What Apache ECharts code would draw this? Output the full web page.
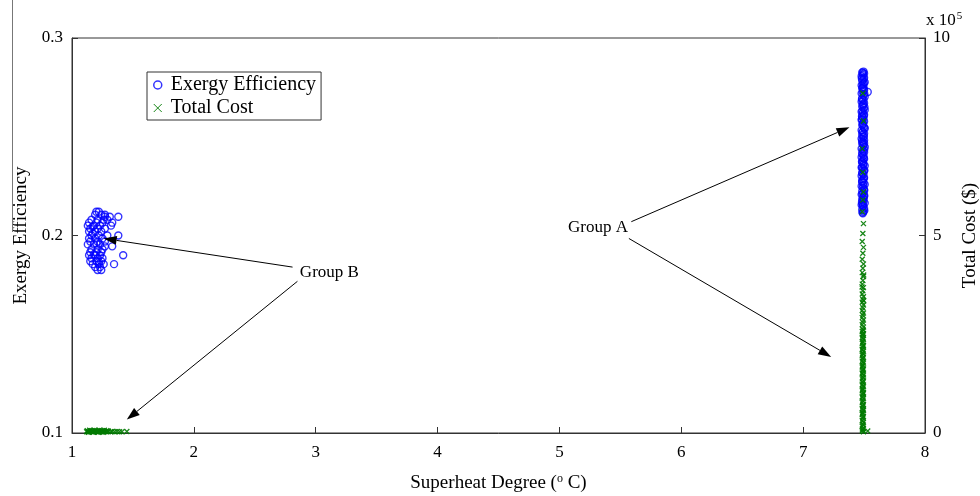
<!DOCTYPE html>
<html>
<head>
<meta charset="utf-8">
<script src="https://cdn.jsdelivr.net/npm/echarts@6/dist/echarts.min.js"></script>
<style>
  html, body { margin: 0; padding: 0; background: #fff; }
  #chart { width: 980px; height: 496px; }
</style>
</head>
<body>
<div id="chart"></div>
<script>
// Superheat degree (°C) vs exergy efficiency, group B (low superheat)
var groupBExergy = [
  [1.20,0.2120],[1.22,0.2120],[1.24,0.2105],[1.19,0.2105],[1.27,0.2105],
  [1.31,0.2095],[1.27,0.2095],[1.38,0.2095],[1.16,0.2080],[1.21,0.2080],
  [1.26,0.2080],[1.29,0.2080],[1.14,0.2065],[1.20,0.2065],[1.25,0.2065],
  [1.33,0.2065],[1.13,0.2050],[1.18,0.2050],[1.23,0.2050],[1.32,0.2050],
  [1.15,0.2035],[1.21,0.2035],[1.27,0.2035],[1.14,0.2020],[1.19,0.2020],
  [1.24,0.2020],[1.16,0.2000],[1.22,0.2000],[1.29,0.2000],[1.38,0.2000],
  [1.14,0.1985],[1.19,0.1985],[1.25,0.1985],[1.15,0.1970],[1.21,0.1970],
  [1.27,0.1970],[1.13,0.1955],[1.18,0.1955],[1.23,0.1955],[1.27,0.1945],
  [1.33,0.1945],[1.16,0.1930],[1.21,0.1930],[1.25,0.1930],[1.15,0.1915],
  [1.20,0.1915],[1.24,0.1915],[1.14,0.1900],[1.19,0.1900],[1.23,0.1900],
  [1.42,0.1900],[1.16,0.1885],[1.21,0.1885],[1.25,0.1885],[1.15,0.1870],
  [1.20,0.1870],[1.24,0.1870],[1.17,0.1855],[1.22,0.1855],[1.26,0.1855],
  [1.345,0.1855],[1.19,0.1840],[1.23,0.1840],[1.21,0.1825],[1.24,0.1825],
  [1.17,0.2010],[1.20,0.1960],[1.18,0.1905],[1.22,0.1865],[1.17,0.2045]
];

// Group A (high superheat) exergy efficiency
var groupAExergy = [
  [7.495,0.2830],[7.485,0.2826],[7.500,0.2820],[7.490,0.2813],[7.480,0.2806],
  [7.500,0.2799],[7.495,0.2791],[7.485,0.2784],[7.505,0.2776],[7.490,0.2767],
  [7.480,0.2760],[7.495,0.2752],[7.530,0.2727],[7.485,0.2744],[7.500,0.2735],
  [7.490,0.2728],[7.480,0.2719],[7.495,0.2711],[7.505,0.2703],[7.485,0.2694],
  [7.495,0.2686],[7.480,0.2677],[7.500,0.2670],[7.490,0.2661],[7.485,0.2653],
  [7.495,0.2645],[7.505,0.2636],[7.480,0.2627],[7.490,0.2619],[7.500,0.2611],
  [7.485,0.2602],[7.495,0.2593],[7.480,0.2585],[7.500,0.2577],[7.490,0.2568],
  [7.485,0.2559],[7.495,0.2551],[7.505,0.2542],[7.480,0.2533],[7.490,0.2525],
  [7.500,0.2516],[7.485,0.2508],[7.495,0.2499],[7.480,0.2490],[7.500,0.2482],
  [7.490,0.2473],[7.485,0.2465],[7.495,0.2456],[7.505,0.2448],[7.480,0.2439],
  [7.490,0.2430],[7.500,0.2422],[7.485,0.2413],[7.495,0.2404],[7.480,0.2396],
  [7.500,0.2387],[7.490,0.2379],[7.485,0.2370],[7.495,0.2362],[7.505,0.2353],
  [7.480,0.2344],[7.490,0.2336],[7.500,0.2327],[7.485,0.2318],[7.495,0.2310],
  [7.480,0.2301],[7.500,0.2293],[7.490,0.2284],[7.485,0.2276],[7.495,0.2267],
  [7.505,0.2258],[7.480,0.2250],[7.490,0.2241],[7.500,0.2233],[7.485,0.2224],
  [7.495,0.2215],[7.480,0.2207],[7.500,0.2198],[7.490,0.2190],[7.485,0.2181],
  [7.495,0.2172],[7.505,0.2164],[7.480,0.2155],[7.490,0.2147],[7.500,0.2138],
  [7.485,0.2130],[7.495,0.2121],[7.490,0.2113],
  [7.490,0.2822],[7.482,0.2795],[7.498,0.2771],[7.488,0.2748],[7.502,0.2716],
  [7.483,0.2690],[7.493,0.2665],[7.503,0.2649],[7.487,0.2631],[7.497,0.2606],
  [7.483,0.2589],[7.492,0.2563],[7.502,0.2546],[7.486,0.2521],[7.498,0.2503],
  [7.484,0.2478],[7.493,0.2460],[7.501,0.2435],[7.487,0.2418],[7.497,0.2392],
  [7.483,0.2374],[7.492,0.2357],[7.502,0.2331],[7.486,0.2314],[7.498,0.2288],
  [7.484,0.2271],[7.493,0.2254],[7.501,0.2228],[7.487,0.2211],[7.497,0.2185],
  [7.483,0.2168],[7.492,0.2151],[7.502,0.2126],[7.487,0.2117],[7.497,0.2741],
  [7.483,0.2604],[7.500,0.2467],[7.484,0.2345],[7.501,0.2203],[7.489,0.2160]
];

// Total cost in units of 1e5 $, group B
var groupBCost = [
  [1.12,0.03],[1.13,0.04],[1.14,0.03],[1.15,0.05],[1.16,0.03],[1.17,0.04],
  [1.18,0.03],[1.19,0.05],[1.20,0.03],[1.21,0.04],[1.22,0.03],[1.23,0.04],
  [1.24,0.03],[1.25,0.05],[1.26,0.03],[1.27,0.04],[1.28,0.03],[1.30,0.04],
  [1.32,0.03],[1.33,0.04],[1.35,0.03],[1.37,0.04],[1.39,0.03],[1.41,0.03],
  [1.45,0.04],
  [1.125,0.06],[1.145,0.07],[1.165,0.06],[1.185,0.07],[1.205,0.06],
  [1.225,0.07],[1.245,0.06],[1.265,0.07],[1.285,0.06],[1.135,0.02],
  [1.175,0.02],[1.215,0.02],[1.255,0.02],[1.295,0.05]
];

// Total cost in units of 1e5 $, group A
var groupACost = [
  [7.490,8.60],[7.495,7.90],[7.485,7.20],[7.490,6.60],[7.495,6.10],
  [7.490,5.90],[7.485,5.60],[7.495,5.30],[7.490,5.05],[7.485,4.85],
  [7.495,4.70],[7.490,4.55],[7.485,4.40],[7.495,4.28],[7.490,4.17],
  [7.485,4.06],[7.495,3.96],[7.490,3.86],[7.485,3.77],[7.495,3.68],
  [7.490,3.60],[7.485,3.52],[7.495,3.45],[7.490,3.38],[7.485,3.31],
  [7.495,3.24],[7.490,3.17],[7.485,3.10],[7.495,3.04],[7.490,2.98],
  [7.485,2.92],[7.495,2.86],[7.490,2.80],[7.485,2.74],[7.495,2.68],
  [7.490,2.62],[7.485,2.57],[7.495,2.52],[7.490,2.47],[7.485,2.42],
  [7.495,2.37],[7.490,2.32],[7.485,2.27],[7.495,2.22],[7.490,2.17],
  [7.485,2.12],[7.495,2.07],[7.490,2.02],[7.485,1.97],[7.495,1.92],
  [7.490,1.87],[7.485,1.82],[7.495,1.77],[7.490,1.72],[7.485,1.67],
  [7.495,1.62],[7.490,1.57],[7.485,1.52],[7.495,1.47],[7.490,1.42],
  [7.485,1.37],[7.495,1.32],[7.490,1.27],[7.485,1.22],[7.495,1.17],
  [7.490,1.12],[7.485,1.07],[7.495,1.02],[7.490,0.97],[7.485,0.92],
  [7.495,0.87],[7.490,0.82],[7.485,0.77],[7.495,0.72],[7.490,0.67],
  [7.485,0.62],[7.495,0.57],[7.490,0.52],[7.485,0.47],[7.495,0.42],
  [7.490,0.37],[7.485,0.32],[7.495,0.27],[7.490,0.22],[7.485,0.17],
  [7.495,0.12],[7.490,0.08],[7.485,0.05],[7.495,0.03],[7.530,0.05],
  [7.494,2.60],[7.486,2.50],[7.492,2.40],[7.487,2.30],[7.494,2.20],
  [7.486,2.10],[7.492,2.00],[7.487,1.90],[7.494,1.80],[7.486,1.70],
  [7.492,1.60],[7.487,1.50],[7.494,1.40],[7.486,1.30],[7.492,1.20],
  [7.487,1.10],[7.494,1.00],[7.486,0.90],[7.492,0.80],[7.487,0.70],
  [7.494,0.60],[7.486,0.50],[7.492,0.40],[7.487,0.30],[7.494,0.20],
  [7.486,0.10],[7.497,3.35],[7.483,3.70],[7.497,4.00]
];

// Axis ranges and tick labels
var superheatTicks = [1, 2, 3, 4, 5, 6, 7, 8];
var exergyTicks = [0.1, 0.2, 0.3];
var costTicks = [0, 5, 10];

// Group annotations: label anchor and arrow [from, to], in superheat / exergy space
var groupLabels = [
  { text: 'Group B', at: [2.87, 0.1815] },
  { text: 'Group A', at: [5.07, 0.2038] }
];
var groupArrows = [
  [[2.81, 0.1840], [1.26, 0.1985]],
  [[2.85, 0.1768], [1.45, 0.1068]],
  [[5.59, 0.2070], [7.38, 0.2548]],
  [[5.57, 0.1985], [7.23, 0.1385]]
];

var serif = 'Liberation Serif, Times New Roman, serif';
var axisColor = '#333';
var blue = '#0000ff';
var green = '#007a00';
var crossPath = 'path://M0,0L10,10M0,10L10,0';

var chart = echarts.init(document.getElementById('chart'));

var option = {
  backgroundColor: '#fff',
  animation: false,
  grid: {
    left: 72, right: 55, top: 38, bottom: 63,
    outerBoundsMode: 'none', containLabel: false,
    show: true, borderColor: axisColor, borderWidth: 1, backgroundColor: 'transparent'
  },
  legend: {
    left: 147, top: 72,
    orient: 'vertical',
    itemWidth: 8, itemHeight: 8, itemGap: 3,
    padding: [3, 5, 2, 6],
    borderColor: '#333', borderWidth: 1,
    backgroundColor: '#fff',
    textStyle: { fontFamily: serif, fontSize: 20, color: '#000', padding: [0, 0, 0, 4] },
    data: [
      { name: 'Exergy Efficiency', icon: 'circle',
        itemStyle: { color: 'transparent', borderColor: blue, borderWidth: 1.5 } },
      { name: 'Total Cost', icon: crossPath,
        itemStyle: { color: 'transparent', borderColor: green, borderWidth: 1 } }
    ]
  },
  xAxis: {
    type: 'value',
    min: superheatTicks[0], max: superheatTicks[superheatTicks.length - 1], interval: 1,
    name: 'Superheat Degree ({sup|o} C)',
    nameLocation: 'middle', nameGap: 40,
    nameTextStyle: {
      fontFamily: serif, fontSize: 19, color: '#000',
      rich: { sup: { fontFamily: serif, fontSize: 12, color: '#000', verticalAlign: 'top', padding: [0, 0, 8, 0] } }
    },
    axisLine: { show: true, lineStyle: { color: axisColor, width: 1 } },
    axisTick: { show: true, inside: true, length: 6, lineStyle: { color: axisColor } },
    axisLabel: { fontFamily: serif, fontSize: 17, color: '#000', margin: 11 },
    splitLine: { show: false }
  },
  yAxis: [
    {
      type: 'value', position: 'left',
      min: exergyTicks[0], max: exergyTicks[exergyTicks.length - 1], interval: 0.1,
      name: 'Exergy Efficiency', nameLocation: 'middle', nameGap: 41,
      nameTextStyle: { fontFamily: serif, fontSize: 19, color: '#000' },
      axisLine: { show: true, lineStyle: { color: axisColor, width: 1 } },
      axisTick: { show: true, inside: true, length: 6, lineStyle: { color: axisColor } },
      axisLabel: { fontFamily: serif, fontSize: 17, color: '#000', margin: 9,
        formatter: function (v) { return v.toFixed(1); } },
      splitLine: { show: false }
    },
    {
      type: 'value', position: 'right',
      min: costTicks[0], max: costTicks[costTicks.length - 1], interval: 5,
      name: 'Total Cost ($)', nameLocation: 'middle', nameGap: 34,
      nameRotate: 90,
      nameTextStyle: { fontFamily: serif, fontSize: 19, color: '#000' },
      axisLine: { show: true, lineStyle: { color: axisColor, width: 1 } },
      axisTick: { show: true, inside: true, length: 6, lineStyle: { color: axisColor } },
      axisLabel: { fontFamily: serif, fontSize: 17, color: '#000', margin: 8 },
      splitLine: { show: false }
    }
  ],
  series: [
    {
      name: 'Exergy Efficiency', type: 'scatter', yAxisIndex: 0,
      symbol: 'circle', symbolSize: 7,
      itemStyle: { color: 'transparent', borderColor: blue, borderWidth: 1.4 },
      data: groupBExergy.concat(groupAExergy), z: 2
    },
    {
      name: 'Total Cost', type: 'scatter', yAxisIndex: 1,
      symbol: crossPath, symbolSize: 5,
      itemStyle: { color: 'transparent', borderColor: green, borderWidth: 1.3, opacity: 0.9 },
      data: groupBCost.concat(groupACost), z: 3
    }
  ]
};

chart.setOption(option);

// Annotation arrows and labels, placed through the axis scales
function toPx(p) {
  return chart.convertToPixel({ xAxisIndex: 0, yAxisIndex: 0 }, p);
}
function arrow(from, to) {
  var p0 = toPx(from), p1 = toPx(to);
  var dx = p1[0] - p0[0], dy = p1[1] - p0[1];
  var len = Math.sqrt(dx * dx + dy * dy), ux = dx / len, uy = dy / len;
  var hl = 13, hw = 4.5;
  var bx = p1[0] - ux * hl, by = p1[1] - uy * hl;
  return [
    { type: 'line', silent: true, z: 10,
      shape: { x1: p0[0], y1: p0[1], x2: bx, y2: by },
      style: { stroke: '#000', lineWidth: 1 } },
    { type: 'polygon', silent: true, z: 10,
      shape: { points: [[p1[0], p1[1]], [bx - uy * hw, by + ux * hw], [bx + uy * hw, by - ux * hw]] },
      style: { fill: '#000' } }
  ];
}
var elements = [];
groupArrows.forEach(function (a) { elements = elements.concat(arrow(a[0], a[1])); });
groupLabels.forEach(function (g) {
  var p = toPx(g.at);
  elements.push({ type: 'text', silent: true, z: 10, x: p[0], y: p[1],
    style: { text: g.text, fontFamily: serif, fontSize: 17, fill: '#000',
      textAlign: 'left', textVerticalAlign: 'middle' } });
});
// Exponent marker of the cost axis
var top10 = chart.convertToPixel({ xAxisIndex: 0, yAxisIndex: 1 }, [8, 10]);
elements.push({ type: 'text', silent: true, z: 10, x: top10[0] + 1, y: top10[1] - 7,
  style: { text: 'x 10{sup|5}', fontFamily: serif, fontSize: 17, fill: '#000',
    textAlign: 'left', textVerticalAlign: 'bottom',
    rich: { sup: { fontFamily: serif, fontSize: 11, fill: '#000', verticalAlign: 'top', padding: [0, 0, 9, 1] } } } });
// Thin frame edge on the far left
elements.push({ type: 'line', silent: true, z: 10,
  shape: { x1: 12.5, y1: 0, x2: 12.5, y2: 232 },
  style: { stroke: '#777', lineWidth: 1 } });
chart.setOption({ graphic: { elements: elements } });
</script>
</body>
</html>
